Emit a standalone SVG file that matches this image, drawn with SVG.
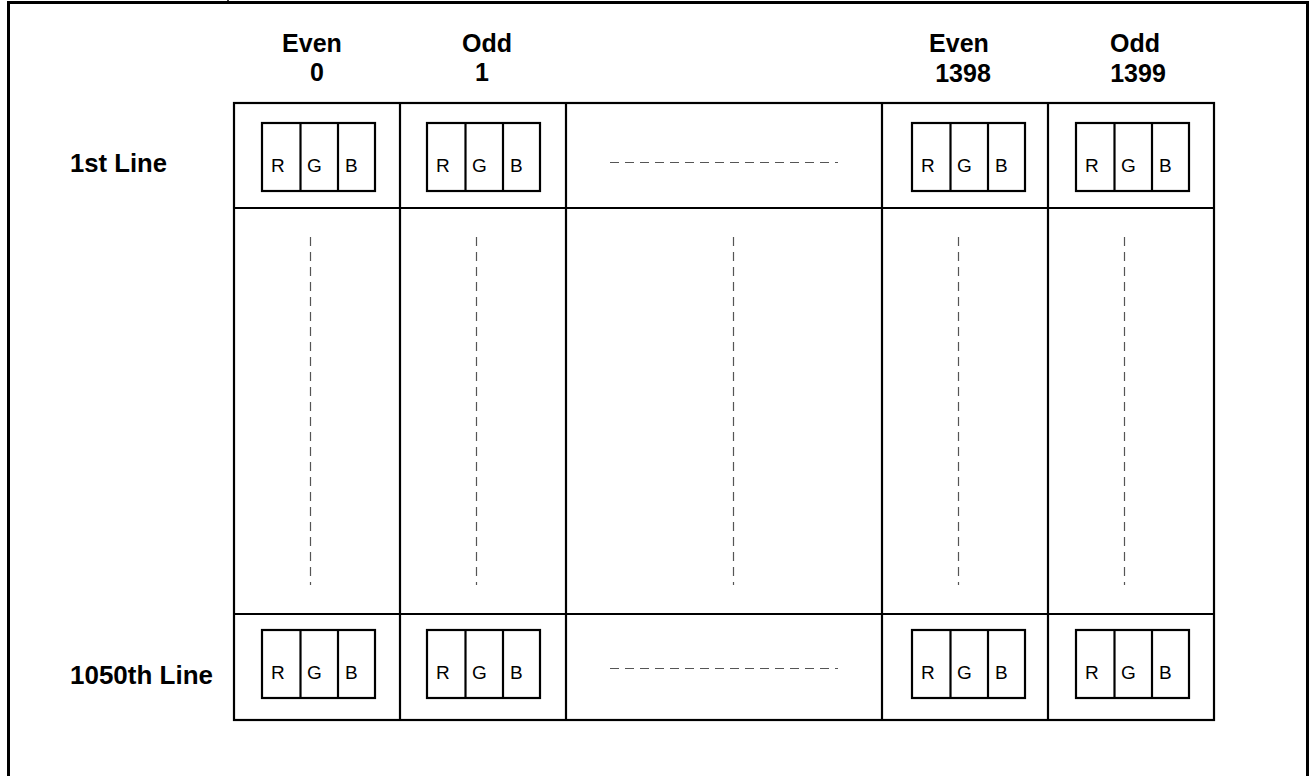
<svg xmlns="http://www.w3.org/2000/svg" width="1312" height="776" viewBox="0 0 1312 776">
<style>
.frame{fill:none;stroke:#000;stroke-width:3}
.grid{fill:none;stroke:#000;stroke-width:2.2}
.box{fill:#fff;stroke:#000;stroke-width:2.2}
.dash{stroke:#555;stroke-width:1.2;stroke-dasharray:9 6;fill:none}
.hdr{font-family:"Liberation Sans",Arial,sans-serif;font-weight:bold;font-size:25px;fill:#000}
</style>
<defs>
<g id="rgb">
<rect class="box" x="0" y="0" width="113" height="68"/>
<line class="grid" x1="38.5" y1="0" x2="38.5" y2="68"/>
<line class="grid" x1="76" y1="0" x2="76" y2="68"/>
<g font-family="Liberation Sans, Arial, sans-serif" font-size="19" fill="#000">
<text x="9" y="49">R</text>
<text x="45" y="49">G</text>
<text x="83" y="49">B</text>
</g>
</g>
</defs>
<rect width="1312" height="776" fill="#fff"/>
<rect class="frame" x="8.5" y="2.5" width="1299" height="800"/>
<line x1="228" y1="0" x2="228" y2="4" stroke="#000" stroke-width="1.5"/>

<g id="headers">
<text class="hdr" x="312" y="52" text-anchor="middle">Even</text>
<text class="hdr" x="317" y="81" text-anchor="middle">0</text>
<text class="hdr" x="487" y="52" text-anchor="middle">Odd</text>
<text class="hdr" x="482" y="81" text-anchor="middle">1</text>
<text class="hdr" x="959" y="52" text-anchor="middle">Even</text>
<text class="hdr" x="963" y="82" text-anchor="middle">1398</text>
<text class="hdr" x="1135" y="52" text-anchor="middle">Odd</text>
<text class="hdr" x="1138" y="82" text-anchor="middle">1399</text>
</g>
<g id="row-labels">
<text class="hdr" x="70" y="172" textLength="97" lengthAdjust="spacingAndGlyphs">1st Line</text>
<text class="hdr" x="70" y="684" textLength="143" lengthAdjust="spacingAndGlyphs">1050th Line</text>
</g>

<g id="grid">
<rect class="grid" x="234" y="103" width="980" height="617"/>
<line class="grid" x1="234" y1="208" x2="1214" y2="208"/>
<line class="grid" x1="234" y1="614" x2="1214" y2="614"/>
<line class="grid" x1="400" y1="103" x2="400" y2="720"/>
<line class="grid" x1="566" y1="103" x2="566" y2="720"/>
<line class="grid" x1="882" y1="103" x2="882" y2="720"/>
<line class="grid" x1="1048" y1="103" x2="1048" y2="720"/>
</g>

<g id="pixel-top-0"><use href="#rgb" x="262" y="123"/></g>
<g id="pixel-top-1"><use href="#rgb" x="427" y="123"/></g>
<g id="pixel-top-1398"><use href="#rgb" x="912" y="123"/></g>
<g id="pixel-top-1399"><use href="#rgb" x="1076" y="123"/></g>
<g id="pixel-bot-0"><use href="#rgb" x="262" y="630"/></g>
<g id="pixel-bot-1"><use href="#rgb" x="427" y="630"/></g>
<g id="pixel-bot-1398"><use href="#rgb" x="912" y="630"/></g>
<g id="pixel-bot-1399"><use href="#rgb" x="1076" y="630"/></g>

<g id="connectors">
<line class="dash" x1="610" y1="162.5" x2="838" y2="162.5"/>
<line class="dash" x1="610" y1="668.5" x2="838" y2="668.5"/>
<line class="dash" x1="310.5" y1="237" x2="310.5" y2="585"/>
<line class="dash" x1="476.5" y1="237" x2="476.5" y2="585"/>
<line class="dash" x1="733.5" y1="237" x2="733.5" y2="585"/>
<line class="dash" x1="958.5" y1="237" x2="958.5" y2="585"/>
<line class="dash" x1="1124.5" y1="237" x2="1124.5" y2="585"/>
</g>
</svg>
